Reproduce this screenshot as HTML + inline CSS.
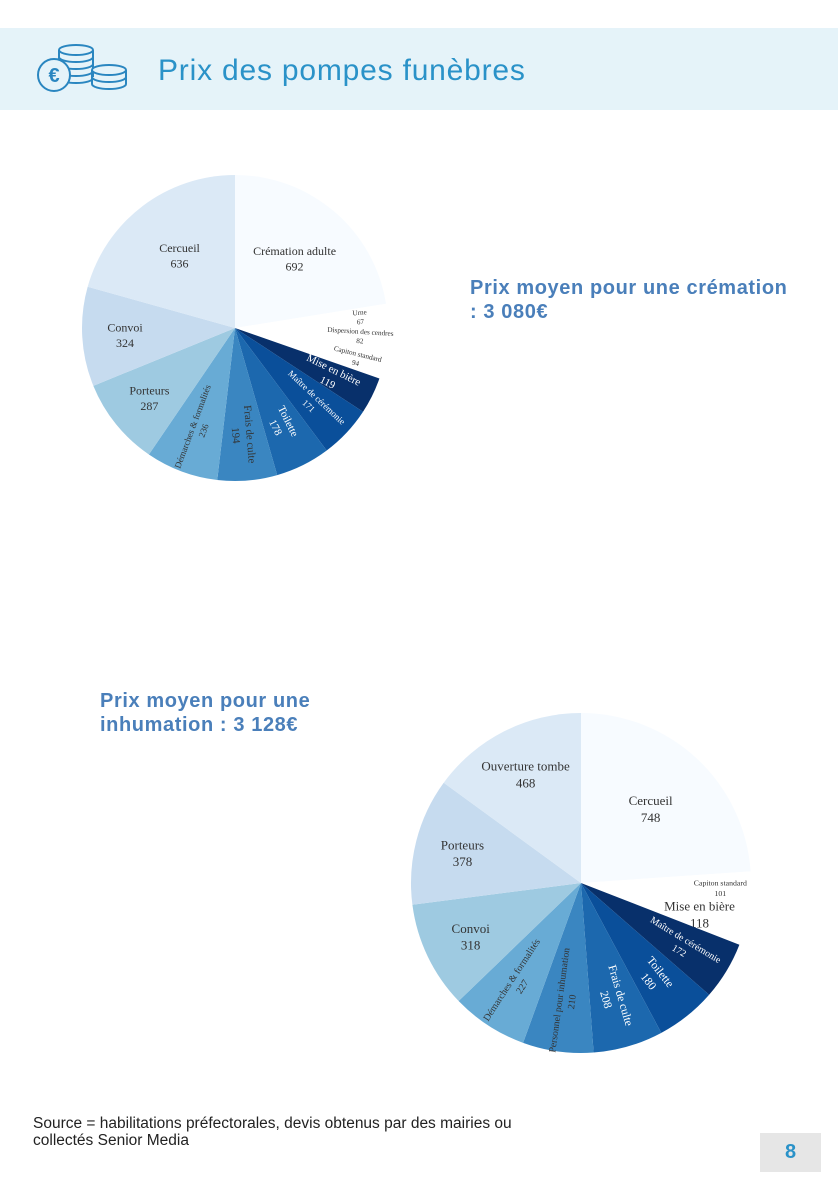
<!DOCTYPE html>
<html><head><meta charset="utf-8"><style>
body{margin:0;width:838px;height:1190px;background:#fff;position:relative;overflow:hidden;font-family:"Liberation Sans",sans-serif}
.abs{position:absolute}
.avg{position:absolute;font-weight:bold;font-size:20px;letter-spacing:0.6px;line-height:24px;color:#4a7fba}
</style></head><body>
<div class="abs" style="left:0;top:28px;width:838px;height:82px;background:#e5f3f9"></div>
<svg class="abs" style="left:36px;top:44px" width="95" height="50" viewBox="0 0 95 50" fill="#e5f3f9" stroke="#2a86c0" stroke-width="2">
<ellipse cx="40" cy="6" rx="17" ry="5"/><path d="M23 6v28M57 6v28M23 13a17 5 0 0 0 34 0M23 20a17 5 0 0 0 34 0M23 27a17 5 0 0 0 34 0M23 34a17 5 0 0 0 34 0"/>
<ellipse cx="73" cy="26" rx="17" ry="5"/><path d="M56 26v14M90 26v14M56 33a17 5 0 0 0 34 0M56 40a17 5 0 0 0 34 0"/>
<circle cx="18" cy="31" r="16"/><text x="18" y="38" text-anchor="middle" font-size="20" font-weight="bold" fill="#2a86c0" stroke="none" font-family="Liberation Sans">€</text>
</svg>
<div class="abs" style="left:158px;top:54px;font-size:30px;letter-spacing:0.8px;color:#2a92c8">Prix des pompes funèbres</div>
<div class="avg" style="left:470px;top:276px">Prix moyen pour une crémation<br>: 3 080€</div>
<div class="avg" style="left:100px;top:689px">Prix moyen pour une<br>inhumation : 3 128€</div>
<svg class="abs" id="chart" style="left:0;top:0" width="838" height="1190"></svg>
<div class="abs" style="left:33px;top:1115px;font-size:15.5px;line-height:17px;color:#222">Source = habilitations préfectorales, devis obtenus par des mairies ou<br>collectés Senior Media</div>
<div class="abs" style="left:760px;top:1133px;width:61px;height:39px;background:#e6e6e6;color:#2a92c8;font-weight:bold;font-size:20px;text-align:center;line-height:39px">8</div>
<script>
const cremLabels=["Crémation adulte","Urne","Dispersion des cendres","Capiton standard","Mise en bière","Maître de cérémonie","Toilette","Frais de culte","Démarches & formalités","Porteurs","Convoi","Cercueil"];
const cremValues=[692,67,82,94,119,171,178,194,236,287,324,636];
const cremColors=["#f7fbff","#ffffff","#ffffff","#ffffff","#08306b","#0a4f9a","#1c68ae","#3a86c1","#68abd5","#9ecae1","#c6dbef","#dbe9f6"];
const cremMode=["h","r","r","r","r","r","r","r","r","h","h","h"];
const inhLabels=["Cercueil","Capiton standard","Mise en bière","Maître de cérémonie","Toilette","Frais de culte","Personnel pour inhumation","Démarches & formalités","Convoi","Porteurs","Ouverture tombe"];
const inhValues=[748,101,118,172,180,208,210,227,318,378,468];
const inhColors=["#f7fbff","#ffffff","#ffffff","#08306b","#0a4f9a","#1c68ae","#3a86c1","#68abd5","#9ecae1","#c6dbef","#dbe9f6"];
const inhMode=["h","h","h","r","r","r","r","r","h","h","h"];
const NS="http://www.w3.org/2000/svg";
const svg=document.getElementById('chart');
function pt(cx,cy,r,a){return [cx+r*Math.sin(a),cy-r*Math.cos(a)];}
function drawPie(name,cx,cy,R,labels,values,colors,modes,fs){
  const total=values.reduce((a,b)=>a+b,0);
  let acc=0;
  const g=document.createElementNS(NS,'g');
  
  
  svg.appendChild(g);
  values.forEach((v,i)=>{
    const a0=acc/total*2*Math.PI;acc+=v;const a1=acc/total*2*Math.PI;
    const p0=pt(cx,cy,R,a0),p1=pt(cx,cy,R,a1);
    const path=document.createElementNS(NS,'path');
    path.setAttribute('d',`M${cx},${cy}L${p0[0]},${p0[1]}A${R},${R} 0 ${a1-a0>Math.PI?1:0} 1 ${p1[0]},${p1[1]}Z`);
    path.setAttribute('fill',colors[i]);
    
    
    g.appendChild(path);
    const mid=(a0+a1)/2;const frac=v/total;
    const small=frac<0.035;
    let lr;
    if(modes[i]==='h') lr=small?0.82:(frac>0.18?0.6:0.72);
    else lr=small?0.82:0.7;
    const lp=pt(cx,cy,R*lr,mid);
    let rot=0;
    if(modes[i]==='r'){rot=mid*180/Math.PI-90;if(rot>90)rot-=180;}
    const dark=['#08306b','#0a4f9a','#1c68ae'].includes(colors[i]);
    let f;
    if(small) f=fs*0.6;
    else if(modes[i]==='r') f=labels[i].length>18?fs*0.75:fs*0.9;
    else f=fs;
    const t=document.createElementNS(NS,'text');
    t.setAttribute('transform',`translate(${lp[0]},${lp[1]}) rotate(${rot})`);
    t.setAttribute('text-anchor','middle');
    t.setAttribute('font-family','"Liberation Serif",serif');
    t.setAttribute('font-size',f);
    t.setAttribute('fill',dark?'#ffffff':'#333');
    
    
    const s1=document.createElementNS(NS,'tspan');s1.setAttribute('x',0);s1.setAttribute('y',-f*0.25);s1.textContent=labels[i];
    const s2=document.createElementNS(NS,'tspan');s2.setAttribute('x',0);s2.setAttribute('y',f*1.05);s2.textContent=values[i];
    t.appendChild(s1);t.appendChild(s2);g.appendChild(t);
  });
}
drawPie('cremation-pie',235,328,153,cremLabels,cremValues,cremColors,cremMode,12);
drawPie('inhumation-pie',581,883,170,inhLabels,inhValues,inhColors,inhMode,13);
</script>
</body></html>
